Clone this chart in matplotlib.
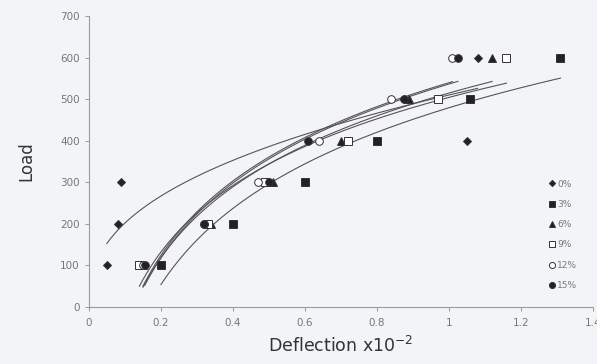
import matplotlib
matplotlib.use("Agg")
import matplotlib.pyplot as plt
import numpy as np

# load levels and deflections (x10^-2)
load = [100, 200, 300, 400, 500, 600]
d0 = [0.05, 0.08, 0.09, 1.05, 0.875, 1.08]
d3 = [0.20, 0.40, 0.60, 0.80, 1.06, 1.31]
d6 = [0.15, 0.34, 0.51, 0.70, 0.89, 1.12]
d9 = [0.14, 0.33, 0.49, 0.72, 0.97, 1.16]
d12 = [0.15, 0.32, 0.47, 0.64, 0.84, 1.01]
d15 = [0.155, 0.32, 0.50, 0.61, 0.875, 1.025]
labels = ["0%", "3%", "6%", "9%", "12%", "15%"]

series = [d0, d3, d6, d9, d12, d15]
markers = ["D", "s", "^", "s", "o", "o"]
faces = ["#222222", "#222222", "#222222", "white", "white", "#222222"]
msize = [4, 5.5, 5.5, 5.5, 5.5, 5.5]

bg = "#f3f4f7"
fig = plt.figure(figsize=(5.97, 3.64), dpi=100, facecolor=bg)
ax = fig.add_axes([0.149, 0.157, 0.844, 0.799], facecolor=bg)

for xs, m, fc, ms, lab in zip(series, markers, faces, msize, labels):
    ax.plot(xs, load, linestyle="none", marker=m, markersize=ms,
            markerfacecolor=fc, markeredgecolor="#333333",
            markeredgewidth=0.7, label=lab, zorder=3)

# trendlines: power fit for 0%, logarithmic fit for the rest
for i, xs in enumerate(series):
    xs = np.array(xs)
    ys = np.array(load, dtype=float)
    xx = np.linspace(xs.min(), xs.max(), 200)
    if i == 0:
        b, lna = np.polyfit(np.log(xs), np.log(ys), 1)
        yy = np.exp(lna) * xx ** b
    else:
        a, c = np.polyfit(np.log(xs), ys, 1)
        yy = a * np.log(xx) + c
    ax.plot(xx, yy, color="#555555", lw=0.8, zorder=2)

ax.set_xlim(0, 1.4)
ax.set_ylim(0, 700)
ax.set_xticks([0, 0.2, 0.4, 0.6, 0.8, 1.0, 1.2, 1.4])
ax.set_xticklabels(["0", "0.2", "0.4", "0.6", "0.8", "1", "1.2", "1.4"])
ax.set_yticks(range(0, 701, 100))

for s in ["top", "right"]:
    ax.spines[s].set_visible(False)
for s in ["left", "bottom"]:
    ax.spines[s].set_color("#9a9a9a")
    ax.spines[s].set_linewidth(0.8)
ax.tick_params(colors="#9a9a9a", labelcolor="#777777", labelsize=7.5, length=3, width=0.7)
ax.tick_params(axis="x", pad=5)

ax.set_xlabel("Deflection x10$^{-2}$", fontsize=12.5, color="#333333", labelpad=6)
ax.set_ylabel("Load", fontsize=12, color="#333333", labelpad=18)

leg = ax.legend(loc="lower right", bbox_to_anchor=(0.985, 0.03), frameon=False,
                fontsize=6.5, handlelength=0.6, handletextpad=0.3, labelspacing=1.25,
                labelcolor="#777777", markerscale=0.8)

fig.savefig("out.png", dpi=100, facecolor=bg)
